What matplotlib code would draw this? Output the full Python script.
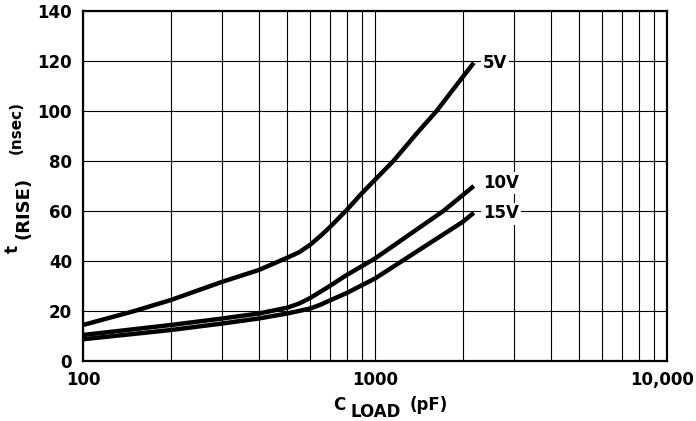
import numpy as np
import matplotlib
matplotlib.use("Agg")
from matplotlib import pyplot as plt
from matplotlib.transforms import ScaledTranslation

plt.rcParams['font.family'] = ['DejaVu Sans']
plt.rcParams['font.weight'] = 'bold'

# C_LOAD in pF, rise time in nsec
c_5v = [100, 150, 200, 300, 400, 500, 550, 600, 650, 700, 800, 900, 1000, 1156, 1389, 1625, 2000, 2180]
t_5v = [14.4, 20, 24.4, 31.7, 36.4, 41.3, 43.5, 46.5, 50, 53.5, 60.4, 67, 72.5, 80, 91, 100, 113.7, 119.3]

c_10v = [100, 200, 300, 400, 500, 550, 600, 700, 800, 1000, 1714, 2000, 2180]
t_10v = [10.4, 14.4, 17, 19, 21.3, 23, 25.2, 30, 34.4, 41, 60, 66.4, 70]

c_15v = [100, 200, 300, 400, 500, 600, 650, 700, 800, 1000, 2000, 2180]
t_15v = [8.7, 12.4, 15, 17, 19, 21, 22.5, 24.2, 27.2, 33, 55.7, 59.3]

labels = ['5V', '10V', '15V']
label_y = [119, 71.4, 59]
label_x = 2344

W, H = 696, 421


def px(x, y):
    # pixel position (from top left) -> figure fraction
    return x / W, 1 - y / H


fig = plt.figure(figsize=(W / 100, H / 100), dpi=100)
ax = fig.add_subplot(111)
fig.subplots_adjust(left=83/W, right=667/W, top=1-11/H, bottom=1-361/H)

for c, t in [(c_5v, t_5v), (c_10v, t_10v), (c_15v, t_15v)]:
    ax.plot(c, t, color='black', lw=3.2, solid_capstyle='butt', solid_joinstyle='round', zorder=3)

for lab, y in zip(labels, label_y):
    ax.text(label_x, y, lab, fontsize=12, fontweight='bold', va='center', ha='left',
            bbox=dict(facecolor='white', edgecolor='none', pad=1.5), zorder=4)

ax.set_xscale('log')
ax.set_xlim(100, 10000)
ax.set_ylim(0, 140)
ax.set_xticks([100, 1000, 10000])
ax.set_xticklabels(['100', '1000', '10,000'])
ax.set_xticks([v * d for d in (100, 1000) for v in range(2, 10)], minor=True)
ax.set_xticklabels([], minor=True)
ax.set_yticks(range(0, 141, 20))
ax.tick_params(which='both', length=0)
ax.tick_params(axis='x', pad=7, labelsize=12)
ax.tick_params(axis='y', pad=8, labelsize=12)
ax.grid(which='both', color='black', lw=0.8)
for s in ax.spines.values():
    s.set_linewidth(1.6)

# last x label sits a little to the left in the original
lbl = ax.get_xticklabels()[-1]
lbl.set_transform(lbl.get_transform() + ScaledTranslation(-5 / 100, 0, fig.dpi_scale_trans))

# axis titles with large subscripts
kw = dict(fontsize=12, fontweight='bold', va='baseline', ha='left')
fig.text(*px(333, 410), 'C', **kw)
fig.text(*px(351, 417), 'LOAD', **kw)
fig.text(*px(410, 410), '(pF)', **kw)

kwr = dict(kw, rotation=90, rotation_mode='anchor')
fig.text(*px(18, 253), 't', **kwr)
fig.text(*px(29, 239), '(RISE)', **dict(kwr, fontsize=13))
fig.text(*px(21, 154), '(nsec)', **dict(kwr, fontsize=11))

plt.savefig('out.png', dpi=100)
